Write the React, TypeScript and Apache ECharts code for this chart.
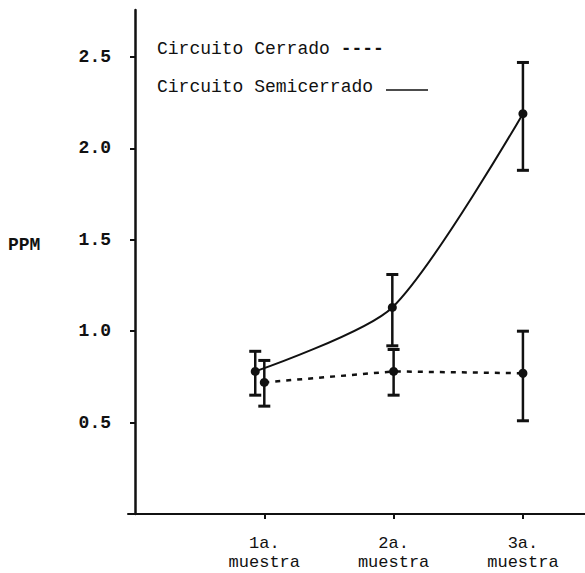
import React, { useEffect, useRef } from "react";
import * as echarts from "echarts";

// ---- data ----
const categoryLabels = ["1a.\nmuestra", "2a.\nmuestra", "3a.\nmuestra"];
const categoryPositions = [1, 2, 3];
const yTickValues = [0.5, 1.0, 1.5, 2.0, 2.5];

const semicerradoX = [0.93, 1.99, 3.0];
const semicerradoY = [0.78, 1.13, 2.19];
const semicerradoLow = [0.65, 0.92, 1.88];
const semicerradoHigh = [0.89, 1.31, 2.47];

const cerradoX = [1.0, 2.0, 3.0];
const cerradoY = [0.72, 0.78, 0.77];
const cerradoLow = [0.59, 0.65, 0.51];
const cerradoHigh = [0.84, 0.9, 1.0];

const legendCerrado = "Circuito Cerrado";
const legendCerradoDashes = "----";
const legendSemicerrado = "Circuito Semicerrado";
const yAxisTitle = "PPM";

const MONO = "'Liberation Mono', 'DejaVu Sans Mono', monospace";

function errorBarRender(params: any, api: any) {
  const x = api.value(0);
  const lo = api.value(1);
  const hi = api.value(2);
  const pLo = api.coord([x, lo]);
  const pHi = api.coord([x, hi]);
  const cap = 6;
  const style = { stroke: "#111", lineWidth: 2.5 };
  return {
    type: "group",
    children: [
      { type: "line", shape: { x1: pLo[0], y1: pLo[1], x2: pHi[0], y2: pHi[1] }, style },
      { type: "line", shape: { x1: pHi[0] - cap, y1: pHi[1], x2: pHi[0] + cap, y2: pHi[1] }, style: { stroke: "#111", lineWidth: 3 } },
      { type: "line", shape: { x1: pLo[0] - cap, y1: pLo[1], x2: pLo[0] + cap, y2: pLo[1] }, style: { stroke: "#111", lineWidth: 3 } },
    ],
  };
}

export default function App() {
  const ref = useRef<HTMLDivElement>(null);
  useEffect(() => {
    if (!ref.current) return;
    const chart = echarts.init(ref.current, null, { renderer: "svg" });
    const semiData = semicerradoX.map((x, i) => [x, semicerradoY[i]]);
    const cerrData = cerradoX.map((x, i) => [x, cerradoY[i]]);
    const semiErr = semicerradoX.map((x, i) => [x, semicerradoLow[i], semicerradoHigh[i]]);
    const cerrErr = cerradoX.map((x, i) => [x, cerradoLow[i], cerradoHigh[i]]);
    chart.setOption({
      animation: false,
      backgroundColor: "#ffffff",
      grid: { left: 128, right: 0, top: 10, bottom: 59, containLabel: false },
      xAxis: {
        type: "value",
        min: -0.054,
        max: 3.48,
        splitLine: { show: false },
        axisLine: { show: true, lineStyle: { color: "#111", width: 2 } },
        axisTick: { show: true, customValues: categoryPositions, length: 5, lineStyle: { color: "#111", width: 2 } },
        axisLabel: {
          show: true,
          customValues: categoryPositions,
          formatter: (v: number) => categoryLabels[categoryPositions.indexOf(Math.round(v))] ?? "",
          fontFamily: MONO,
          fontSize: 17,
          lineHeight: 19,
          color: "#111",
          margin: 20,
          align: "center",
        },
      },
      yAxis: {
        type: "value",
        min: 0,
        max: 2.757,
        splitLine: { show: false },
        axisLine: { show: true, lineStyle: { color: "#111", width: 2.5 } },
        axisTick: { show: true, customValues: yTickValues, length: 5, lineStyle: { color: "#111", width: 2 } },
        axisLabel: {
          show: true,
          customValues: yTickValues,
          formatter: (v: number) => v.toFixed(1),
          fontFamily: MONO,
          fontSize: 18,
          fontWeight: "bold",
          color: "#111",
          margin: 17,
        },
      },
      graphic: [
        {
          type: "text",
          left: 157,
          top: 40,
          style: {
            text: `${legendCerrado} {d|${legendCerradoDashes}}`,
            font: `18px ${MONO}`,
            fill: "#111",
            rich: { d: { fontFamily: MONO, fontSize: 18, fontWeight: "bold", fill: "#111" } },
          },
        },
        {
          type: "text",
          left: 157,
          top: 78,
          style: { text: legendSemicerrado, font: `18px ${MONO}`, fill: "#111" },
        },
        {
          type: "line",
          shape: { x1: 386, y1: 90, x2: 428, y2: 90 },
          style: { stroke: "#111", lineWidth: 1.5 },
        },
        {
          type: "text",
          left: 8,
          top: 236,
          style: { text: yAxisTitle, font: `bold 18px ${MONO}`, fill: "#111" },
        },
      ],
      series: [
        {
          name: "Circuito Semicerrado",
          type: "line",
          data: semiData,
          smooth: 0.25,
          symbol: "circle",
          symbolSize: 9,
          itemStyle: { color: "#111" },
          lineStyle: { color: "#111", width: 2 },
          z: 3,
        },
        {
          name: "Circuito Cerrado",
          type: "line",
          data: cerrData,
          symbol: "circle",
          symbolSize: 9,
          itemStyle: { color: "#111" },
          lineStyle: { color: "#111", width: 2.5, type: [5, 6] },
          z: 3,
        },
        {
          type: "custom",
          renderItem: errorBarRender,
          data: semiErr,
          encode: { x: 0, y: [1, 2] },
          z: 2,
        },
        {
          type: "custom",
          renderItem: errorBarRender,
          data: cerrErr,
          encode: { x: 0, y: [1, 2] },
          z: 2,
        },
      ],
    });
    return () => chart.dispose();
  }, []);
  return (
    <div
      ref={ref}
      style={{ position: "absolute", left: 0, top: 0, width: 585, height: 573, background: "#fff" }}
    />
  );
}
